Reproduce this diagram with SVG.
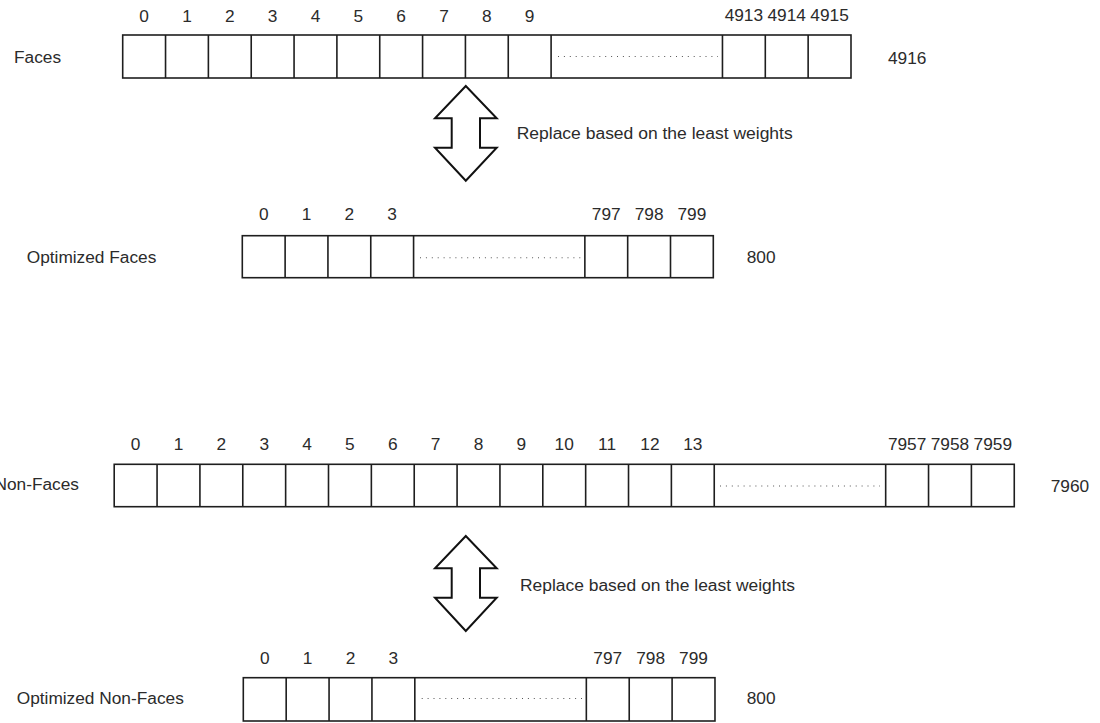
<svg xmlns="http://www.w3.org/2000/svg" width="1100" height="723" viewBox="0 0 1100 723">
  <style>
    text { font-family: "Liberation Sans", Arial, Helvetica, sans-serif; font-size: 17.3px; fill: #2b2b2b; }
    .idx { text-anchor: middle; }
    .box { fill: #ffffff; stroke: #1e1e1e; stroke-width: 1.6; }
    .div { stroke: #1e1e1e; stroke-width: 1.6; }
    .dots { stroke: #555555; stroke-width: 1.1; stroke-dasharray: 1 4.9; fill: none; }
    .dbl { fill: #ffffff; stroke: #111111; stroke-width: 2; stroke-linejoin: miter; }
  </style>

  <!-- Faces array: 4916 slots -->
  <g id="faces">
    <text x="14" y="63">Faces</text>
    <rect class="box" x="122.7" y="35" width="728.3" height="43"/>
    <path class="div" d="M165.54 35V78M208.38 35V78M251.22 35V78M294.06 35V78M336.9 35V78M379.74 35V78M422.58 35V78M465.42 35V78M508.26 35V78M551.1 35V78M722.46 35V78M765.3 35V78M808.14 35V78"/>
    <line class="dots" x1="558" y1="56.5" x2="718" y2="56.5"/>
    <g class="idx">
      <text class="idx" x="144.12" y="21.5">0</text>
      <text class="idx" x="186.96" y="21.5">1</text>
      <text class="idx" x="229.8" y="21.5">2</text>
      <text class="idx" x="272.64" y="21.5">3</text>
      <text class="idx" x="315.48" y="21.5">4</text>
      <text class="idx" x="358.32" y="21.5">5</text>
      <text class="idx" x="401.16" y="21.5">6</text>
      <text class="idx" x="444" y="21.5">7</text>
      <text class="idx" x="486.84" y="21.5">8</text>
      <text class="idx" x="529.68" y="21.5">9</text>
      <text class="idx" x="743.88" y="21">4913</text>
      <text class="idx" x="786.72" y="21">4914</text>
      <text class="idx" x="829.56" y="21">4915</text>
    </g>
    <text x="888" y="64">4916</text>
  </g>

  <!-- Optimized Faces array: 800 slots -->
  <g id="optimized-faces">
    <text x="26.7" y="263.3">Optimized Faces</text>
    <rect class="box" x="242.3" y="235.7" width="471" height="42"/>
    <path class="div" d="M285.12 235.7V277.7M327.94 235.7V277.7M370.76 235.7V277.7M413.58 235.7V277.7M584.86 235.7V277.7M627.68 235.7V277.7M670.5 235.7V277.7"/>
    <line class="dots" x1="420" y1="257.8" x2="583" y2="257.8"/>
    <text class="idx" x="263.71" y="219.5">0</text>
    <text class="idx" x="306.53" y="219.5">1</text>
    <text class="idx" x="349.35" y="219.5">2</text>
    <text class="idx" x="392.17" y="219.5">3</text>
    <text class="idx" x="606.27" y="220">797</text>
    <text class="idx" x="649.09" y="220">798</text>
    <text class="idx" x="691.91" y="220">799</text>
    <text x="746.7" y="263">800</text>
  </g>

  <!-- Non-Faces array: 7960 slots -->
  <g id="non-faces">
    <text x="79" y="490" text-anchor="end">Non-Faces</text>
    <rect class="box" x="114.2" y="464.3" width="900.06" height="42.4"/>
    <path class="div" d="M157.06 464.3V506.7M199.92 464.3V506.7M242.78 464.3V506.7M285.64 464.3V506.7M328.5 464.3V506.7M371.36 464.3V506.7M414.22 464.3V506.7M457.08 464.3V506.7M499.94 464.3V506.7M542.8 464.3V506.7M585.66 464.3V506.7M628.52 464.3V506.7M671.38 464.3V506.7M714.24 464.3V506.7M885.68 464.3V506.7M928.54 464.3V506.7M971.4 464.3V506.7"/>
    <line class="dots" x1="720" y1="486" x2="880" y2="486"/>
    <text class="idx" x="135.63" y="450">0</text>
    <text class="idx" x="178.49" y="450">1</text>
    <text class="idx" x="221.35" y="450">2</text>
    <text class="idx" x="264.21" y="450">3</text>
    <text class="idx" x="307.07" y="450">4</text>
    <text class="idx" x="349.93" y="450">5</text>
    <text class="idx" x="392.79" y="450">6</text>
    <text class="idx" x="435.65" y="450">7</text>
    <text class="idx" x="478.51" y="450">8</text>
    <text class="idx" x="521.37" y="450">9</text>
    <text class="idx" x="564.23" y="450">10</text>
    <text class="idx" x="607.09" y="450">11</text>
    <text class="idx" x="649.95" y="450">12</text>
    <text class="idx" x="692.81" y="450">13</text>
    <text class="idx" x="907.11" y="450">7957</text>
    <text class="idx" x="949.97" y="450">7958</text>
    <text class="idx" x="992.83" y="450">7959</text>
    <text x="1050.7" y="492">7960</text>
  </g>

  <!-- Optimized Non-Faces array: 800 slots -->
  <g id="optimized-non-faces">
    <text x="16.7" y="704.3">Optimized Non-Faces</text>
    <rect class="box" x="243.3" y="677.7" width="471.68" height="43.3"/>
    <path class="div" d="M286.18 677.7V721M329.06 677.7V721M371.94 677.7V721M414.82 677.7V721M586.34 677.7V721M629.22 677.7V721M672.1 677.7V721"/>
    <line class="dots" x1="421.7" y1="698.5" x2="583" y2="698.5"/>
    <text class="idx" x="264.74" y="664.3">0</text>
    <text class="idx" x="307.62" y="664.3">1</text>
    <text class="idx" x="350.5" y="664.3">2</text>
    <text class="idx" x="393.38" y="664.3">3</text>
    <text class="idx" x="607.78" y="663.5">797</text>
    <text class="idx" x="650.66" y="663.5">798</text>
    <text class="idx" x="693.54" y="663.5">799</text>
    <text x="746.7" y="703.5">800</text>
  </g>

  <!-- Double-headed replacement arrows between each array and its optimized version -->
  <g id="connectors">
    <g id="replace-faces">
      <polygon class="dbl" points="465.8,86 496.7,118.3 480,118.3 480,147.7 496.7,147.7 465.8,180.7 435,147.7 451.7,147.7 451.7,118.3 435,118.3"/>
      <text x="516.7" y="139.3" textLength="276" lengthAdjust="spacingAndGlyphs">Replace based on the least weights</text>
    </g>
    <g id="replace-non-faces">
      <polygon class="dbl" points="465.8,536 496.7,568.3 480,568.3 480,597.7 496.7,597.7 465.8,631 435,597.7 451.7,597.7 451.7,568.3 435,568.3"/>
      <text x="520" y="590.7" textLength="275" lengthAdjust="spacingAndGlyphs">Replace based on the least weights</text>
    </g>
  </g>
</svg>
